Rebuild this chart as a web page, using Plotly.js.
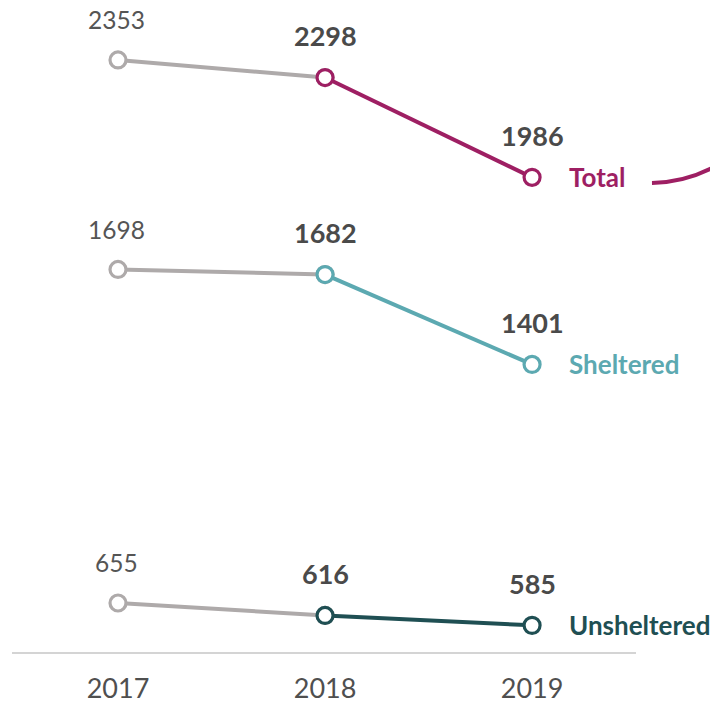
<!DOCTYPE html>
<html>
<head>
<meta charset="utf-8">
<script src="https://cdn.plot.ly/plotly-3.0.1.min.js"></script>
<style>html,body{margin:0;padding:0;background:#fff;}#chart{width:710px;height:704px;}</style>
</head>
<body>
<div id="chart"></div>
<script>
const years = [2017, 2018, 2019];
const yearLabels = ["2017", "2018", "2019"];
const seriesNames = ["Total", "Sheltered", "Unsheltered"];
const totalVals = [2353, 2298, 1986];
const shelteredVals = [1698, 1682, 1401];
const unshelteredVals = [655, 616, 585];

const seriesVals = [totalVals, shelteredVals, unshelteredVals];
const seriesColors = ["#9E1F63", "#5CA9B1", "#1F4F53"];
const grey = "#AEAAAA";
const font = "Lato, 'Open Sans', sans-serif";

const traces = [];
const annotations = [];
seriesVals.forEach((vals, i) => {
  traces.push({
    x: years.slice(0, 2), y: vals.slice(0, 2), type: 'scatter', mode: 'lines+markers',
    line: {color: grey, width: 4},
    marker: {symbol: 'circle', size: 16, color: '#fff', line: {color: grey, width: 3.2}},
    hoverinfo: 'skip', showlegend: false, cliponaxis: false
  });
  traces.push({
    x: years.slice(1), y: vals.slice(1), type: 'scatter', mode: 'lines+markers',
    line: {color: seriesColors[i], width: 4},
    marker: {symbol: 'circle', size: 16, color: '#fff', line: {color: seriesColors[i], width: 3.2}},
    hoverinfo: 'skip', showlegend: false, cliponaxis: false
  });
  vals.forEach((v, j) => {
    annotations.push({
      x: years[j], y: v, xref: 'x', yref: 'y', text: String(v), showarrow: false,
      yshift: j === 0 ? 40 : 42, xshift: j === 0 ? -2 : 0,
      font: {family: font, size: j === 0 ? 24.5 : 27, color: j === 0 ? '#555555' : '#4A4A4A', weight: j === 0 ? 400 : 700}
    });
  });
  annotations.push({
    x: years[2], y: vals[2], xref: 'x', yref: 'y', text: '<b>' + seriesNames[i] + '</b>', showarrow: false,
    xanchor: 'left', xshift: 35, yshift: 0,
    font: {family: font, size: 26, color: seriesColors[i]}
  });
});

const layout = {
  width: 710, height: 704,
  margin: {l: 12, r: 74, t: 20, b: 52},
  paper_bgcolor: '#fff', plot_bgcolor: '#fff',
  showlegend: false,
  xaxis: {
    range: [2016.488, 2019.502], tickvals: years, ticktext: yearLabels,
    showgrid: false, zeroline: false, showline: true, linecolor: '#D4D4D4', linewidth: 2,
    ticks: 'outside', ticklen: 12, tickcolor: 'rgba(0,0,0,0)',
    tickfont: {family: font, size: 27, color: '#4F4F4F'}, fixedrange: true
  },
  yaxis: {
    range: [501.7, 2478], showgrid: false, zeroline: false, showline: false,
    showticklabels: false, ticks: '', fixedrange: true
  },
  annotations: annotations,
  shapes: [{
    type: 'path', xref: 'paper', yref: 'paper',
    path: 'M 1.0256 0.7421 Q 1.0785 0.7430 1.125 0.7674',
    line: {color: seriesColors[0], width: 4}, layer: 'above'
  }]
};

Plotly.newPlot('chart', traces, layout, {staticPlot: true, displayModeBar: false});
</script>
</body>
</html>
